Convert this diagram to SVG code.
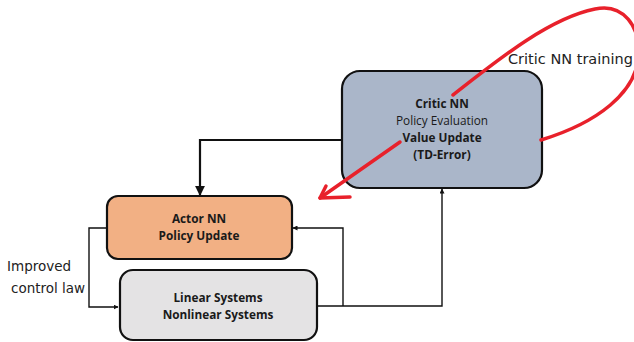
<svg xmlns="http://www.w3.org/2000/svg" width="634" height="342" viewBox="0 0 634 342">
  <style>
    .box { stroke: #111; stroke-width: 2.2; }
    .t { font-family: "Open Sans", "Noto Sans", sans-serif; font-size: 11.8px; fill: #1a1a1a; text-anchor: middle; }
    .b { font-weight: bold; }
    .lbl { font-family: "DejaVu Sans", "Noto Sans", sans-serif; fill: #222; }
    .w { fill: none; stroke: #111; }
    .ink { fill: none; stroke: #e8212b; stroke-width: 3.5; stroke-linecap: round; stroke-linejoin: round; }
  </style>
  <defs>
    <marker id="ah" viewBox="0 0 10 10" refX="9" refY="5" markerWidth="5" markerHeight="5" markerUnits="userSpaceOnUse" orient="auto">
      <path d="M0,0 L10,5 L0,10 z" fill="#111"/>
    </marker>
    <marker id="ahb" viewBox="0 0 10 10" refX="9" refY="5" markerWidth="4.5" markerHeight="4.5" orient="auto">
      <path d="M0,0 L10,5 L0,10 z" fill="#111"/>
    </marker>
  </defs>

  <rect width="634" height="342" fill="#fff"/>

  <g id="connectors">
    <!-- critic -> actor -->
    <path class="w" stroke-width="2.2" d="M342,140 H200 V195" marker-end="url(#ahb)"/>
    <!-- plant -> critic -->
    <path class="w" stroke-width="1.4" d="M317,306 H442 V189" marker-end="url(#ah)"/>
    <!-- plant -> actor -->
    <path class="w" stroke-width="1.4" d="M343,306 V228 H293" marker-end="url(#ah)"/>
    <!-- actor -> plant (improved control law) -->
    <path class="w" stroke-width="1.4" d="M107,228 H89 V307 H118" marker-end="url(#ah)"/>
  </g>

  <g id="critic">
    <rect class="box" x="342" y="71" width="200" height="117" rx="18" fill="#aab6c9"/>
    <text class="t b" x="442" y="108">Critic NN</text>
    <text class="t" x="442" y="125">Policy Evaluation</text>
    <text class="t b" x="442" y="142">Value Update</text>
    <text class="t b" x="442" y="159">(TD-Error)</text>
  </g>

  <g id="actor">
    <rect class="box" x="107" y="196" width="185" height="63" rx="11" fill="#f2b084"/>
    <text class="t b" x="199" y="223">Actor NN</text>
    <text class="t b" x="199" y="240">Policy Update</text>
  </g>

  <g id="plant">
    <rect class="box" x="120" y="270" width="197" height="70" rx="13" fill="#e4e3e4"/>
    <text class="t b" x="218" y="302">Linear Systems</text>
    <text class="t b" x="218" y="319">Nonlinear Systems</text>
  </g>

  <g id="labels">
    <text class="lbl" x="7" y="271" style="font-size:13.5px">Improved</text>
    <text class="lbl" x="11" y="293" style="font-size:13.5px">control law</text>
    <text class="lbl" x="508" y="64" style="font-size:14.5px">Critic NN training</text>
  </g>

  <g id="annotations">
    <!-- training loop -->
    <path class="ink" d="M453,95 C500,58 550,18 595,9 C622,3 642,25 638,60 C634,92 600,122 541,140"/>
    <!-- update arrow -->
    <path class="ink" d="M400,142 L320,198"/>
    <path class="ink" d="M326,186 L320,198 L350,197"/>
  </g>
</svg>
